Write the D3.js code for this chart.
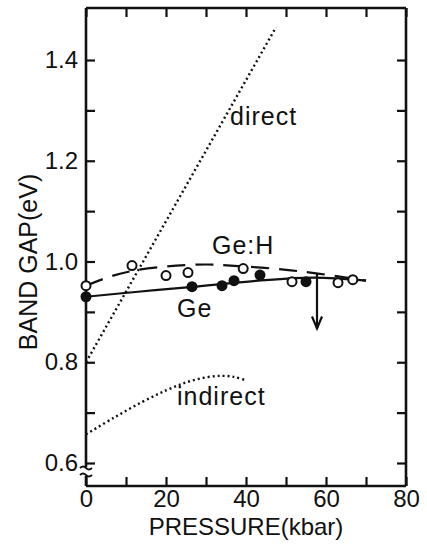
<!DOCTYPE html>
<html>
<head>
<meta charset="utf-8">
<script src="https://cdn.jsdelivr.net/npm/d3@7"></script>
<style>
  body { margin: 0; background: #fff; }
  svg text { font-family: "Liberation Sans", Arial, sans-serif; fill: #111; }
</style>
</head>
<body>
<div id="chart"></div>
<script>
// readings from the scanned figure (pressure in kbar, gap in eV)
var geFilled = [[0, 0.930], [26.5, 0.950], [34, 0.952], [37, 0.962], [43.5, 0.973], [55, 0.960]];
var geHOpen = [[0, 0.952], [11.5, 0.992], [20, 0.972], [25.5, 0.978], [39.3, 0.986], [51.5, 0.960], [63, 0.958], [66.7, 0.964]];
var geFit = [[0, 0.930], [13, 0.940], [26, 0.949], [43, 0.962], [57, 0.968], [70, 0.962]];
var geHFit = [[0, 0.952], [6, 0.970], [12, 0.982], [20, 0.990], [30, 0.994], [38, 0.991], [48, 0.985], [58, 0.976], [70, 0.962]];
var directLine = [[0, 0.800], [47.5, 1.465]];
var indirectLine = [[0, 0.657], [7, 0.690], [14, 0.721], [20, 0.744], [25, 0.760], [30, 0.770], [34, 0.773], [37, 0.771], [40, 0.764]];
var arrowAt = [57.75, 0.976, 0.867];

var xTicks = [0, 10, 20, 30, 40, 50, 60, 70, 80];
var xLabels = [0, 20, 40, 60, 80];
var yTicks = [0.6, 0.7, 0.8, 0.9, 1.0, 1.1, 1.2, 1.3, 1.4];
var yLabels = [0.6, 0.8, 1.0, 1.2, 1.4];

var width = 427, height = 550;
var frame = { left: 86, right: 406, top: 8, bottom: 486 };

var x = d3.scaleLinear().domain([0, 80]).range([frame.left, frame.right]);
var y = d3.scaleLinear().domain([0.6, 1.4]).range([463, 60]);

var svg = d3.select("#chart").append("svg")
  .attr("width", width)
  .attr("height", height);

var line = d3.line().x(d => x(d[0])).y(d => y(d[1]));
var smooth = d3.line().x(d => x(d[0])).y(d => y(d[1])).curve(d3.curveCatmullRom);

// axes, ticks pointing inward
var bottomAxis = svg.append("g")
  .attr("transform", "translate(0," + frame.bottom + ")")
  .call(d3.axisBottom(x).tickValues(xTicks).tickSize(-9).tickPadding(4)
    .tickFormat(d => xLabels.includes(d) ? d : ""));

var topAxis = svg.append("g")
  .attr("transform", "translate(0," + frame.top + ")")
  .call(d3.axisTop(x).tickValues(xTicks).tickSize(-9).tickFormat(""));

var leftAxis = svg.append("g")
  .attr("transform", "translate(" + frame.left + ",0)")
  .call(d3.axisLeft(y).tickValues(yTicks).tickSize(-9).tickPadding(8)
    .tickFormat(d => yLabels.some(v => Math.abs(v - d) < 1e-6) ? d3.format(".1f")(d) : ""));

var rightAxis = svg.append("g")
  .attr("transform", "translate(" + frame.right + ",0)")
  .call(d3.axisRight(y).tickValues(yTicks).tickSize(-9).tickFormat(""));

svg.selectAll(".domain").remove();
svg.selectAll(".tick line").attr("stroke", "#111").attr("stroke-width", 2.2);
svg.selectAll(".tick text").style("font-size", "24px").attr("fill", "#111");

// frame with the break on the left axis
var edge = svg.append("g").attr("stroke", "#111").attr("stroke-width", 2.6).attr("fill", "none");
edge.append("line").attr("x1", frame.left).attr("x2", frame.right).attr("y1", frame.top).attr("y2", frame.top);
edge.append("line").attr("x1", frame.left).attr("x2", frame.right).attr("y1", frame.bottom).attr("y2", frame.bottom);
edge.append("line").attr("x1", frame.right).attr("x2", frame.right).attr("y1", frame.top).attr("y2", frame.bottom);
edge.append("line").attr("x1", frame.left).attr("x2", frame.left).attr("y1", frame.top).attr("y2", 467);
edge.append("line").attr("x1", frame.left).attr("x2", frame.left).attr("y1", 476).attr("y2", frame.bottom);
edge.append("path")
  .attr("stroke-width", 1.8)
  .attr("d", "M" + (frame.left - 6) + ",468 q3,-3 6,0 t6,0 M" + (frame.left - 6) + ",475 q3,-3 6,0 t6,0");

// dotted band edges
svg.append("path").datum(directLine)
  .attr("d", line)
  .attr("fill", "none").attr("stroke", "#111").attr("stroke-width", 2.4)
  .attr("stroke-dasharray", "2,3");

svg.append("path").datum(indirectLine)
  .attr("d", smooth)
  .attr("fill", "none").attr("stroke", "#111").attr("stroke-width", 2.4)
  .attr("stroke-dasharray", "2,3");

// fits
svg.append("path").datum(geHFit)
  .attr("d", smooth)
  .attr("fill", "none").attr("stroke", "#111").attr("stroke-width", 2.2)
  .attr("stroke-dasharray", "18,10");

svg.append("path").datum(geFit)
  .attr("d", smooth)
  .attr("fill", "none").attr("stroke", "#111").attr("stroke-width", 2.2);

// arrow
svg.append("line")
  .attr("x1", x(arrowAt[0])).attr("x2", x(arrowAt[0]))
  .attr("y1", y(arrowAt[1])).attr("y2", y(arrowAt[2]))
  .attr("stroke", "#111").attr("stroke-width", 2.2);
svg.append("path")
  .attr("d", "M" + (x(arrowAt[0]) - 5) + "," + (y(arrowAt[2]) - 12) + " L" + x(arrowAt[0]) + "," + y(arrowAt[2]) + " L" + (x(arrowAt[0]) + 5) + "," + (y(arrowAt[2]) - 12))
  .attr("fill", "none").attr("stroke", "#111").attr("stroke-width", 2.2);

// points
svg.selectAll(".open").data(geHOpen).join("circle")
  .attr("class", "open")
  .attr("cx", d => x(d[0])).attr("cy", d => y(d[1])).attr("r", 4.5)
  .attr("fill", "#fff").attr("stroke", "#111").attr("stroke-width", 2);

svg.selectAll(".filled").data(geFilled).join("circle")
  .attr("class", "filled")
  .attr("cx", d => x(d[0])).attr("cy", d => y(d[1])).attr("r", 5.5)
  .attr("fill", "#111");

// labels
var labels = [
  { t: "direct", x: 230, y: 125 },
  { t: "Ge:H", x: 212, y: 254 },
  { t: "Ge", x: 177, y: 317 },
  { t: "indirect", x: 177, y: 405 }
];
svg.selectAll(".lbl").data(labels).join("text")
  .attr("class", "lbl")
  .attr("x", d => d.x).attr("y", d => d.y)
  .style("font-size", "25px").style("letter-spacing", "1px")
  .text(d => d.t);

svg.append("text")
  .attr("x", (frame.left + frame.right) / 2).attr("y", 535)
  .attr("text-anchor", "middle")
  .style("font-size", "24px")
  .text("PRESSURE(kbar)");

svg.append("text")
  .attr("transform", "translate(37,262) rotate(-90)")
  .attr("text-anchor", "middle")
  .style("font-size", "25px")
  .text("BAND GAP(eV)");
</script>
</body>
</html>
